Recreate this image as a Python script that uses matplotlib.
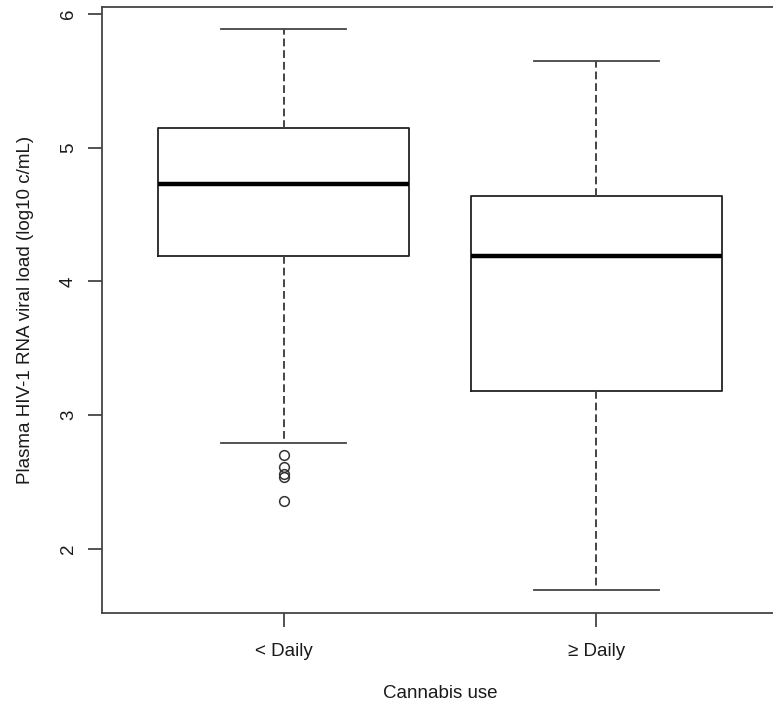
import matplotlib
matplotlib.use('Agg')
import matplotlib.pyplot as plt

# values
groups = ["< Daily", "\u2265 Daily"]
whislo = [2.79, 1.69]
q1 = [4.19, 3.18]
med = [4.73, 4.19]
q3 = [5.15, 4.64]
whishi = [5.89, 5.65]
fliers = [[2.70, 2.61, 2.56, 2.54, 2.36], []]

plt.rcParams['font.family'] = ['Liberation Sans', 'DejaVu Sans']

fig = plt.figure(figsize=(7.73, 7.11), dpi=100)
# axes spine right edge sits just off the picture, like the reference
ax = fig.add_axes([102 / 773, 1 - 612.5 / 711, 676 / 773, 606 / 711])

stats = []
for i in range(len(groups)):
    stats.append({"whislo": whislo[i], "q1": q1[i], "med": med[i],
                  "q3": q3[i], "whishi": whishi[i], "fliers": fliers[i],
                  "label": groups[i]})

line_col = "#222222"
ax.bxp(stats, positions=[1, 2], widths=0.8, showfliers=True,
       boxprops=dict(color=line_col, linewidth=1.3),
       medianprops=dict(color="black", linewidth=3.2),
       whiskerprops=dict(color="#444444", linewidth=1.4, linestyle=(0, (4, 2))),
       capprops=dict(color="#444444", linewidth=1.3),
       capwidths=0.4,
       flierprops=dict(marker="o", markerfacecolor="none", markeredgecolor="#333333",
                       markersize=7, markeredgewidth=1.1))

ax.set_xlim(0.42, 2.58)
ax.set_ylim(1.524, 6.055)
ax.set_yticks([2, 3, 4, 5, 6])
ax.set_xticks([1, 2])
ax.set_xticklabels(groups)

for s in ax.spines.values():
    s.set_color("#444444")
    s.set_linewidth(1.3)

ax.tick_params(axis="both", length=10, width=1.3, color="#444444",
               labelsize=13.5, labelcolor="#1a1a1a")
ax.tick_params(axis="y", pad=8)
ax.tick_params(axis="x", pad=12)
for lab in ax.get_yticklabels():
    lab.set_rotation(90)
    lab.set_va("center")

ax.set_ylabel("Plasma HIV-1 RNA viral load (log10 c/mL)", fontsize=13.5,
              color="#1a1a1a", labelpad=19)
ax.set_xlabel("Cannabis use", fontsize=13.5, color="#1a1a1a", labelpad=18)

fig.savefig("out.png", dpi=100)
